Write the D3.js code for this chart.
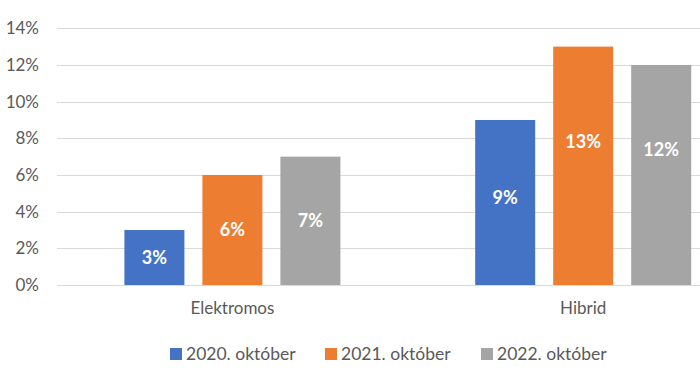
<!DOCTYPE html>
<html><head><meta charset="utf-8">
<script src="https://cdn.jsdelivr.net/npm/d3@7"></script>
<style>body{margin:0;background:#fff}svg{display:block}</style>
</head><body>
<svg id="c" width="700" height="373"></svg>
<script>
const categories = ["Elektromos", "Hibrid"];
const seriesNames = ["2020. október", "2021. október", "2022. október"];
const v2020 = [3, 9];
const v2021 = [6, 13];
const v2022 = [7, 12];
const yTicks = [0, 2, 4, 6, 8, 10, 12, 14];
const colors = ["#4472C4", "#ED7D31", "#A5A5A5"];

const series = [v2020, v2021, v2022];
// manual vertical nudges of data labels (px), per category then series
const labelNudge = [[0, 0, 0], [-5, -24, -25]];
const svg = d3.select("#c");
const font = "Lato, 'Open Sans', sans-serif";
const x0 = d3.scaleBand().domain(categories).range([57, 758.6]);
const y = d3.scaleLinear().domain([0, 14]).range([285, 28.3]);
const x1 = d3.scaleBand().domain(seriesNames).range([0, 216]).paddingInner(18/78);

// gridlines
svg.append("g").selectAll("line").data(yTicks).join("line")
  .attr("x1", 57).attr("x2", 700)
  .attr("y1", d => Math.round(y(d)) + 0.5).attr("y2", d => Math.round(y(d)) + 0.5)
  .attr("stroke", "#d9d9d9").attr("stroke-width", 1);

// y axis labels
const yAxis = d3.axisLeft(y).tickValues(yTicks).tickFormat(d => d + "%").tickSize(0).tickPadding(0);
const ya = svg.append("g").attr("transform", "translate(39,0)").call(yAxis);
ya.select(".domain").remove();
ya.selectAll("text").attr("font-family", font).attr("font-size", 17).attr("fill", "#595959");

// bars
const groups = svg.append("g").selectAll("g").data(categories).join("g")
  .attr("transform", d => `translate(${x0(d) + x0.bandwidth()/2 - 108},0)`);
groups.each(function(cat, ci) {
  const g = d3.select(this);
  seriesNames.forEach((s, si) => {
    const val = series[si][ci];
    g.append("rect").attr("x", x1(s)).attr("width", x1.bandwidth())
      .attr("y", y(val)).attr("height", y(0) - y(val)).attr("fill", colors[si]);
    g.append("text").attr("x", x1(s) + x1.bandwidth()/2)
      .attr("y", (y(val) + y(0)) / 2 + labelNudge[ci][si])
      .attr("dy", "0.35em").attr("text-anchor", "middle")
      .attr("font-family", font).attr("font-weight", "bold").attr("font-size", 18)
      .attr("fill", "#fff").text(val + "%");
  });
});

// x axis labels
const xAxis = d3.axisBottom(x0).tickSize(0).tickPadding(0);
const xa = svg.append("g").attr("transform", "translate(0,302)").call(xAxis);
xa.select(".domain").remove();
xa.selectAll("text").attr("font-family", font).attr("font-size", 17).attr("fill", "#595959");

// legend
const legX = [170, 325, 481];
const leg = svg.append("g").selectAll("g").data(seriesNames).join("g")
  .attr("transform", (d, i) => `translate(${legX[i]},348)`);
leg.append("rect").attr("width", 12).attr("height", 12).attr("fill", (d, i) => colors[i]);
leg.append("text").attr("x", 16).attr("y", 6).attr("dy", "0.35em")
  .attr("font-family", font).attr("font-size", 17.5).attr("fill", "#595959").text(d => d);
</script>
</body></html>
